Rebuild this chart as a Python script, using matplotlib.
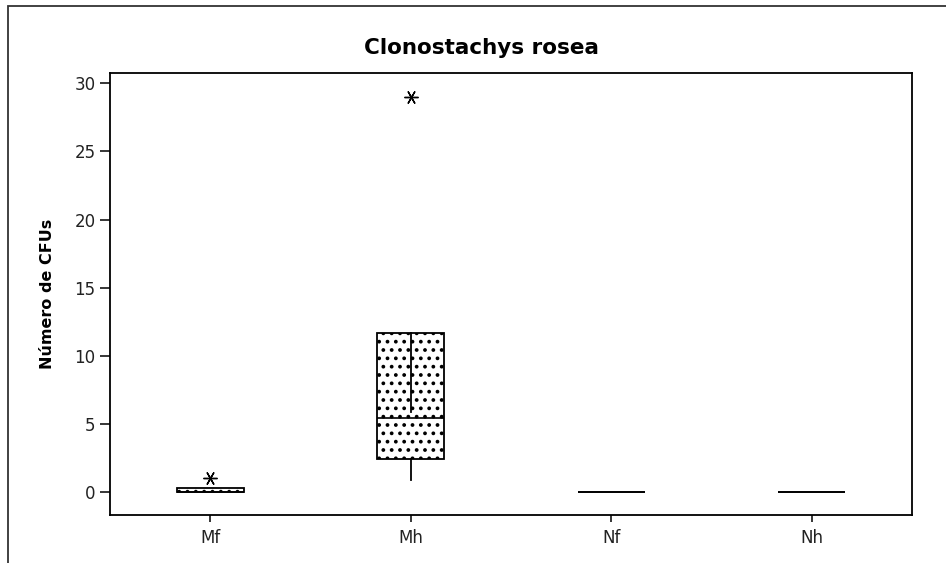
import matplotlib
matplotlib.use("Agg")
import matplotlib.pyplot as plt
from matplotlib.patches import Rectangle

# valores
grupos = ["Mf", "Mh", "Nf", "Nh"]
q1 = [0.0, 2.45, 0.0, 0.0]
mediana = [0.0, 5.4, 0.0, 0.0]
q3 = [0.3, 11.65, 0.0, 0.0]
bigote_inf = [0.0, 0.9, 0.0, 0.0]
bigote_sup = [0.3, 5.9, 0.0, 0.0]
atipicos = [[1.0], [29.0], [], []]

plt.rcParams["font.family"] = ["DejaVu Sans"]
plt.rcParams["hatch.linewidth"] = 1.5

fig = plt.figure(figsize=(9.46, 5.63), dpi=100)
W, H = 946, 563

# marco exterior
fig.patches.append(Rectangle((8 / W, -0.1), 1.2, (H - 6) / H + 0.1,
                             transform=fig.transFigure, fill=False,
                             edgecolor="#333333", linewidth=1.3))

ax = fig.add_axes([110 / W, (H - 515) / H, 802 / W, (515 - 73) / H])

stats = []
for i, g in enumerate(grupos):
    stats.append(dict(label=g, q1=q1[i], med=mediana[i], q3=q3[i],
                      whislo=bigote_inf[i], whishi=bigote_sup[i],
                      fliers=atipicos[i]))

bp = ax.bxp(stats, positions=range(1, len(grupos) + 1), widths=0.335,
            patch_artist=True, showcaps=False,
            boxprops=dict(facecolor="white", edgecolor="black", linewidth=1.3, hatch=".."),
            medianprops=dict(color="black", linewidth=1.2),
            whiskerprops=dict(color="black", linewidth=1.3),
            flierprops=dict(marker=(6, 2, 90), markersize=10, markeredgecolor="black",
                            markeredgewidth=1.0, linestyle="none"))

ax.set_xlim(0.5, 4.5)
ax.set_ylim(-1.69, 30.76)
ax.set_yticks([0, 5, 10, 15, 20, 25, 30])
ax.tick_params(axis="y", direction="out", length=7, width=1.1, labelsize=12,
               colors="black", labelcolor="#222222")
ax.tick_params(axis="x", direction="out", length=5, width=1.1, labelsize=12,
               colors="black", labelcolor="#222222", pad=5)
for s in ax.spines.values():
    s.set_linewidth(1.3)

ax.set_ylabel("Número de CFUs", fontsize=11.5, fontweight="bold", labelpad=14)
fig.text(481 / W, 1 - 48 / H, "Clonostachys rosea", ha="center", va="center",
         fontsize=15.5, fontweight="bold")

fig.savefig("out.png", dpi=100)
